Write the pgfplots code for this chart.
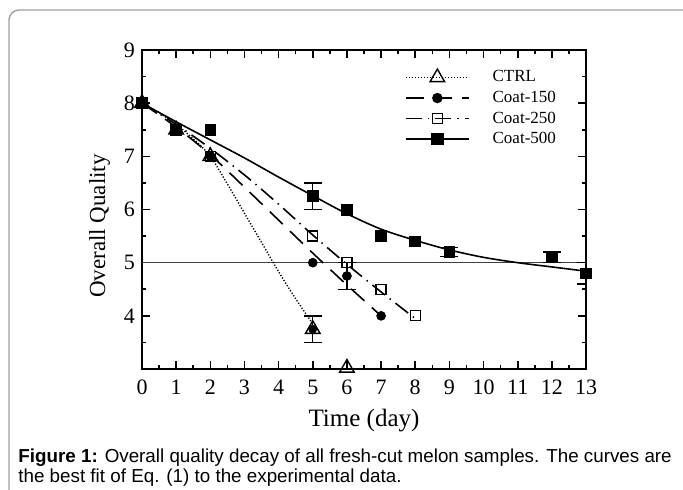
\documentclass[border=0pt]{standalone}
\usepackage{fontspec}
\setmainfont{Liberation Serif}
\newfontfamily\capfont{Liberation Sans}
\usepackage{pgfplots}
\pgfplotsset{compat=1.18}

\pgfplotsset{
  ctrl/.style={black, line width=0.7pt, dash pattern=on 0.6pt off 0.9pt},
  c150/.style={black, line width=0.8pt, dash pattern=on 9pt off 5pt},
  c250/.style={black, line width=0.8pt, dash pattern=on 8pt off 3pt on 0.7pt off 3pt},
  c500/.style={black, line width=0.8pt},
  errs/.style={forget plot, black, only marks, mark=none,
    error bars/.cd, y dir=both, y explicit,
    error bar style={line width=0.7pt, solid},
    error mark options={rotate=90, mark size=4.5pt, line width=0.7pt, solid}},
}

\begin{document}
\begin{tikzpicture}
\useasboundingbox (0,0) rectangle (341.5pt,244.5pt);
\draw[gray!75, line width=0.7pt, rounded corners=5pt] (4.5pt,-20pt) rectangle (380pt,239.5pt);

\begin{axis}[
  at={(71pt,60pt)}, anchor=south west,
  scale only axis, width=222pt, height=159.5pt,
  xmin=0, xmax=13, ymin=3, ymax=9,
  xtick={0,...,13}, ytick={4,...,9},
  minor xtick={0.5,1.5,...,12.5}, minor ytick={3.5,4.5,...,8.5},
  tick align=inside,
  major tick length=4pt, minor tick length=2pt,
  axis line style={line width=1pt},
  every tick/.style={black, line width=0.8pt},
  /pgf/number format/assume math mode=true,
  ticklabel style={font=\fontsize{11}{12}\selectfont},
  xticklabel style={yshift=-2pt},
  xlabel={Time (day)}, ylabel={Overall Quality},
  xlabel style={font=\fontsize{12.5}{14}\selectfont},
  ylabel style={font=\fontsize{11.5}{14}\selectfont, at={(ticklabel cs:0.448)}},
  legend style={at={(0.578,0.96)}, anchor=north west, draw=none, fill=none,
    font=\fontsize{8.5}{10}\selectfont, row sep=0pt,
    nodes={inner ysep=0.6pt, text height=6.8pt, text depth=2.3pt}},
  legend cell align=left,
  legend image code/.code={\path (41pt,0pt); \draw[mark repeat=2,mark phase=2,#1]
    plot coordinates {(0pt,0pt) (15.75pt,0pt) (31.5pt,0pt)};},
]
% legend entries
\addlegendimage{ctrl, mark=triangle, mark size=4.2pt, mark options={solid, fill=white, line width=0.7pt}}
\addlegendentry{CTRL}
\addlegendimage{c150, mark=*, mark size=2.2pt, mark options={solid}}
\addlegendentry{Coat-150}
\addlegendimage{c250, mark=square, mark size=2.5pt, mark options={solid, fill=white, line width=0.6pt}}
\addlegendentry{Coat-250}
\addlegendimage{c500, mark=square*, mark size=2.7pt, mark options={solid}}
\addlegendentry{Coat-500}

% reference line
\addplot[forget plot, black!75, line width=0.6pt] coordinates {(0,5) (13,5)};

% fitted curves
\addplot[forget plot, ctrl, smooth] coordinates {
  (0,8) (0.5,7.82) (1,7.6) (1.5,7.33) (2,7.0) (2.5,6.48) (3,5.93)
  (3.5,5.38) (4,4.83) (4.5,4.32) (5,3.85)};
\addplot[forget plot, c150, smooth] coordinates {
  (0,8) (1,7.55) (2,7.03) (3,6.42) (4,5.8) (5,5.18) (6,4.58) (7,4.0)};
\addplot[forget plot, c250, smooth] coordinates {
  (0,8) (1,7.6) (2,7.15) (3,6.65) (4,6.1) (5,5.52) (6,4.97) (7,4.45) (8,3.95)};
\addplot[forget plot, c500, smooth] coordinates {
  (0,8) (1,7.65) (2,7.31) (3,6.97) (4,6.61) (5,6.26) (6,5.92) (7,5.63)
  (8,5.42) (9,5.24) (10,5.1) (11,5.0) (12,4.92) (13,4.84)};

% error bars
\addplot[errs] coordinates {(5,3.75) +- (0,0.25)};
\addplot[errs] coordinates {(6,4.75) +- (0,0.25)};
\addplot[errs] coordinates {(5,6.25) +- (0,0.25) (9,5.2) +- (0,0.08) (12,5.1) +- (0,0.1) (13,4.8) +- (0,0.2)};

% experimental data
\addplot[forget plot, only marks, black, mark=square*, mark size=2.7pt] coordinates {
  (0,8) (1,7.5) (2,7.5) (5,6.25) (6,6) (7,5.5) (8,5.4) (9,5.2) (12,5.1) (13,4.8)};
\addplot[forget plot, only marks, black, mark=square, mark size=2.5pt,
  mark options={fill=white, line width=0.6pt}] coordinates {
  (0,8) (1,7.5) (2,7) (5,5.5) (6,5) (7,4.5) (8,4)};
\addplot[forget plot, only marks, black, mark=*, mark size=2.2pt] coordinates {
  (0,8) (1,7.5) (2,7) (5,5) (6,4.75) (7,4)};
\addplot[forget plot, only marks, black, mark=triangle, mark size=4.2pt,
  mark options={line width=0.7pt}] coordinates {
  (0,8) (1,7.5) (2,7) (5,3.75) (6,3.02)};
\end{axis}

\node[anchor=base west, inner sep=0, font=\capfont\fontsize{9.4}{11}\selectfont]
  at (9pt,13.3pt) {\textbf{Figure 1:} Overall quality decay of all fresh-cut melon samples. The curves are};
\node[anchor=base west, inner sep=0, font=\capfont\fontsize{9.4}{11}\selectfont]
  at (9pt,3.2pt) {the best fit of Eq. (1) to the experimental data.};
\end{tikzpicture}
\end{document}
